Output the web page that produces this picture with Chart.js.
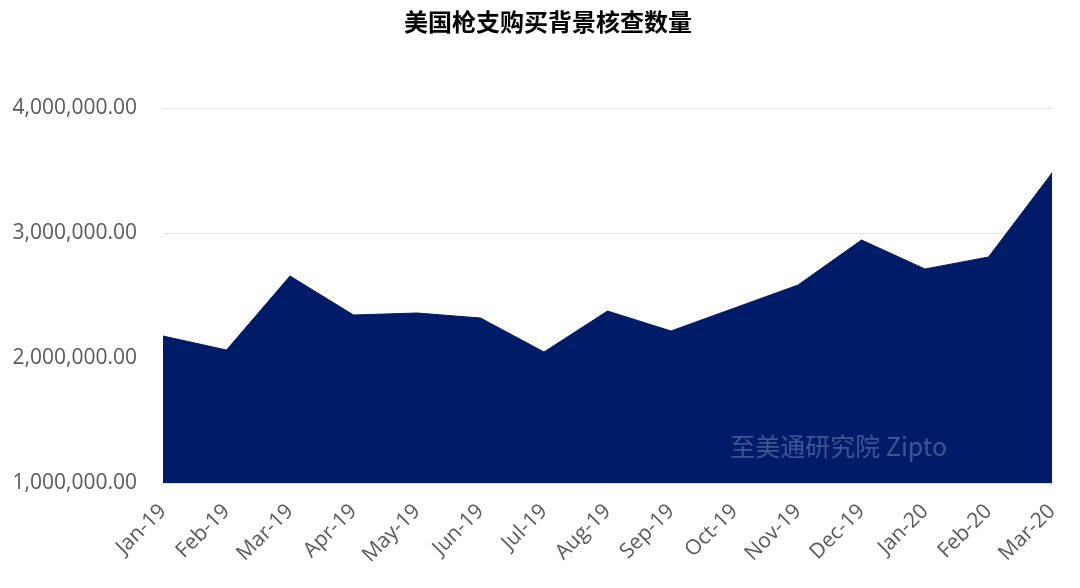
<!DOCTYPE html>
<html><head><meta charset="utf-8">
<script src="https://cdn.jsdelivr.net/npm/chart.js@4"></script>
<style>html,body{margin:0;padding:0;background:#fff}#wrap{width:1080px;height:588px}</style>
</head><body><div id="wrap"><canvas id="c" width="1080" height="588"></canvas></div>
<script>
const categories = ['Jan-19','Feb-19','Mar-19','Apr-19','May-19','Jun-19','Jul-19','Aug-19','Sep-19','Oct-19','Nov-19','Dec-19','Jan-20','Feb-20','Mar-20'];
const checks = [2176000,2064000,2656000,2344000,2360000,2320000,2048000,2376000,2216000,2400000,2584000,2944000,2712000,2808000,3480000];
const yTicks = [1000000,2000000,3000000,4000000];
const titleText = '美国枪支购买背景核查数量';
const watermark = '至美通研究院 Zipto';

const deco = {
  id:'deco',
  afterDatasetsDraw(chart){
    const ctx = chart.ctx, a = chart.chartArea;
    ctx.save();
    ctx.font = '25px "Noto Sans CJK SC", "Noto Sans", sans-serif';
    ctx.fillStyle = 'rgba(110,135,185,0.55)';
    ctx.textAlign = 'center'; ctx.textBaseline = 'middle';
    ctx.fillText(watermark, a.left + (a.right - a.left) * 0.76, a.bottom - 37);
    ctx.restore();
  },
  afterDraw(chart){
    const ctx = chart.ctx;
    ctx.save();
    ctx.font = 'bold 24px "Noto Sans CJK SC", sans-serif';
    ctx.fillStyle = '#000';
    ctx.textAlign = 'center'; ctx.textBaseline = 'middle';
    ctx.fillText(titleText, 548, 22);
    ctx.restore();
  }
};

new Chart(document.getElementById('c'), {
  type:'line',
  data:{labels:categories, datasets:[{data:checks, fill:'start', backgroundColor:'#001b68', borderColor:'#001b68', borderWidth:1, pointRadius:0, tension:0}]},
  options:{
    responsive:false, animation:false,
    layout:{padding:{left:0,right:28,top:108,bottom:0}},
    plugins:{ legend:{display:false}, tooltip:{enabled:false}, title:{display:false} },
    scales:{
      x:{grid:{display:false}, border:{display:false},
         ticks:{color:'#595959', font:{family:'"Open Sans", sans-serif', size:21}, minRotation:45, maxRotation:45, padding:8},
         afterFit(s){ s.height = 105; }},
      y:{min:1000000, max:4000000,
         afterBuildTicks(s){ s.ticks = yTicks.map(v=>({value:v})); },
         grid:{color:'#e3e3e3', drawTicks:false}, border:{display:false},
         ticks:{color:'#595959', font:{family:'"Open Sans", sans-serif', size:21}, padding:26,
           callback:v=>v.toLocaleString('en-US',{minimumFractionDigits:2, maximumFractionDigits:2})},
         afterFit(s){ s.width = 163; }}
    }
  },
  plugins:[deco]
});
</script></body></html>
